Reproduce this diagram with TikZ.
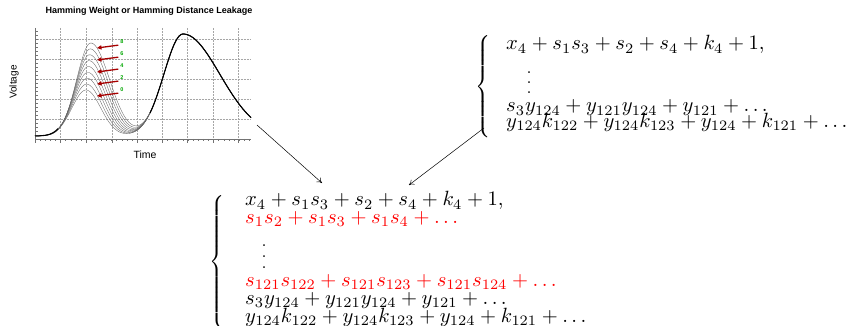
\documentclass[tikz,border=0pt]{standalone}
\usepackage{fontspec}
\newfontfamily\arialfam{Liberation Sans}
\usetikzlibrary{arrows.meta}
\newcommand{\eqtext}[1]{\scalebox{2.06}{\fontsize{10}{12}\selectfont$#1$}}
\begin{document}
\begin{tikzpicture}[x=1pt,y=-1pt,
  eqline/.style={anchor=base west, inner sep=0pt},
  redeq/.style={eqline, text=red},
  bracenode/.style={inner sep=0pt},
  gridline/.style={gray!70, densely dotted, line width=0.5pt},
  axisline/.style={black!55, line width=0.6pt},
  tickline/.style={black!55, line width=0.4pt},
  trace/.style={black!60, line width=0.35pt},
  hwarrow/.style={-{Triangle[length=4.5pt,width=4.2pt]}, line width=1.3pt, draw=red!65!black},
  hwlabel/.style={text=green!65!black, font=\arialfam\bfseries\fontsize{5.5}{6}\selectfont, inner sep=0pt},
  flow/.style={-{To[length=5pt,width=6pt]}, line width=0.5pt},
]
\useasboundingbox (0,0) rectangle (863,326);

% ---------- plot ----------
\node[font=\arialfam\bfseries\fontsize{9}{10}\selectfont] (title) at (149,11) {Hamming Weight or Hamming Distance Leakage};
\node[font=\arialfam\fontsize{10}{12}\selectfont, rotate=90] (ylab) at (14,82) {Voltage};
\node[font=\arialfam\fontsize{10.5}{12}\selectfont] (xlab) at (145,155) {Time};

\foreach \gx in {60,86,112,137,162,187,213,238}
  \draw[gridline] (\gx,28) -- (\gx,139);
\foreach \gy in {39,59,79,99,119}
  \draw[gridline] (35,\gy) -- (251,\gy);
\foreach \i in {0,...,42}
  \draw[tickline] ({35+\i*5.1},139) -- ++(0,2.5);
\foreach \gx in {35,60,86,112,137,162,187,213,238}
  \draw[tickline] (\gx,139) -- ++(0,4.5);
\foreach \i in {0,...,27}
  \draw[tickline] (35,{139-\i*4}) -- ++(3,0);
\draw[axisline] (35,28) -- (35,139) -- (251,139);

\foreach \i in {0,...,8}{
  \pgfmathsetmacro\hh{46+5.875*\i}
  \pgfmathsetmacro\cc{86+0.6*\i}
  \pgfmathsetmacro\wr{21+0.7*\i}
  \draw[trace] plot[domain=35:251, samples=130, smooth]
    (\x, {136 - \hh*exp(-((\x-\cc)/(\x<\cc?20:\wr))^2) - 102*exp(-((\x-183)/(\x<183?27:52))^2)});
}
\draw[black, line width=1.1pt] plot[domain=35:58, samples=20, smooth]
    (\x, {136 - 70*exp(-((\x-88)/20)^2)});
\draw[black, line width=1.1pt] plot[domain=150:251, samples=60, smooth]
    (\x, {136 - 102*exp(-((\x-183)/(\x<183?27:52))^2)});

\foreach \ly/\lab in {42/8,54/6,66/4,78/2,90/0}{
  \node[hwlabel] (hw\lab) at (122,\ly) {\lab};
  \coordinate (hwt\lab) at (97,\ly+6);
  \draw[hwarrow] (hw\lab.south west) ++(-2,1) -- (hwt\lab);
}

% ---------- right system ----------
\node[bracenode, anchor=east] (rbrace) at (493,86.5)
  {\scalebox{1.7}{\delimitershortfall=0pt\delimiterfactor=1000$\left\{\vcenter{\hbox{\rule{0pt}{54.7pt}}}\right.$}};
\node[eqline] (r1) at (506,50) {\eqtext{x_4+s_1s_3+s_2+s_4+k_4+1,}};
\node[inner sep=0pt] (rd) at (529,83) {\fontsize{22}{26}\selectfont$\vcenter{\baselineskip=10pt\lineskiplimit=0pt\hbox{.}\hbox{.}\hbox{.}}$};
\node[eqline] (r2) at (506,112) {\eqtext{s_3y_{124}+y_{121}y_{124}+y_{121}+\dots}};
\node[eqline] (r3) at (506,127.5) {\eqtext{y_{124}k_{122}+y_{124}k_{123}+y_{124}+k_{121}+\dots}};

% ---------- bottom system ----------
\node[bracenode, anchor=east] (bbrace) at (227,262)
  {\scalebox{1.7}{\delimitershortfall=0pt\delimiterfactor=1000$\left\{\vcenter{\hbox{\rule{0pt}{74.7pt}}}\right.$}};
\node[eqline] (b1) at (245,206) {\eqtext{x_4+s_1s_3+s_2+s_4+k_4+1,}};
\node[redeq] (b2) at (245,223) {\eqtext{s_1s_2+s_1s_3+s_1s_4+\dots}};
\node[inner sep=0pt] (bd) at (264,257) {\fontsize{22}{26}\selectfont$\vcenter{\baselineskip=11pt\lineskiplimit=0pt\hbox{.}\hbox{.}\hbox{.}}$};
\node[redeq] (b3) at (245,286) {\eqtext{s_{121}s_{122}+s_{121}s_{123}+s_{121}s_{124}+\dots}};
\node[eqline] (b4) at (245,304) {\eqtext{s_3y_{124}+y_{121}y_{124}+y_{121}+\dots}};
\node[eqline] (b5) at (245,322) {\eqtext{y_{124}k_{122}+y_{124}k_{123}+y_{124}+k_{121}+\dots}};

% ---------- connectors ----------
\coordinate (plotcorner) at (257,125);
\coordinate (rbottom) at (484,128);
\coordinate (in1) at (322,183);
\coordinate (in2) at (409,185);
\draw[flow] (plotcorner) -- (in1);
\draw[flow] (rbottom) -- (in2);
\end{tikzpicture}
\end{document}
